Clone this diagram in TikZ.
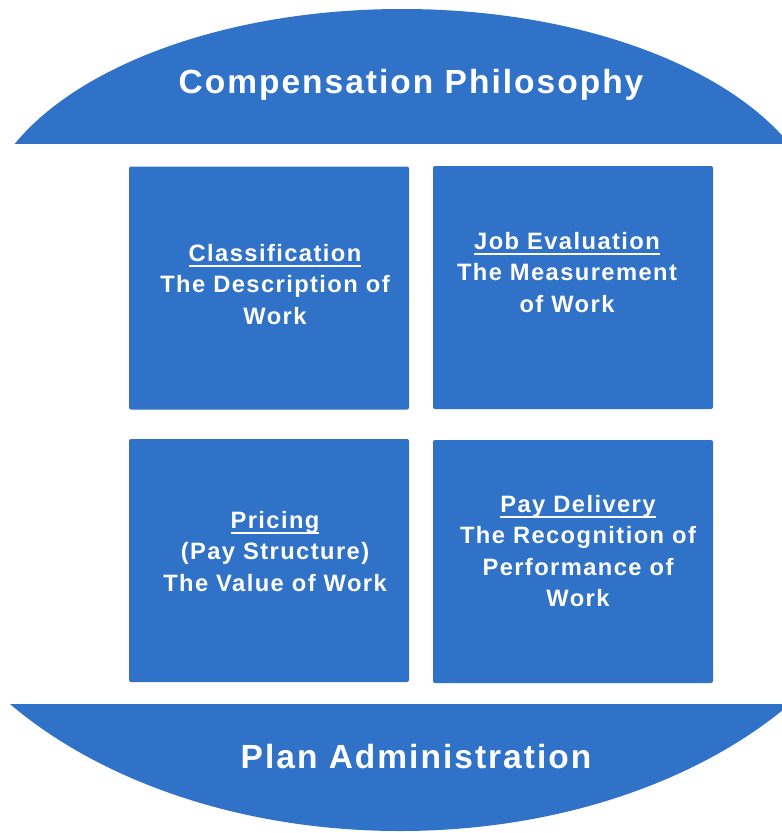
\documentclass[tikz,border=0pt]{standalone}
\usepackage{fontspec}
\setmainfont{Liberation Sans}[LetterSpace=6]
\definecolor{planblue}{RGB}{47,114,199}
\newcommand{\headul}[1]{\setbox0\hbox{#1}\rlap{\rule[-6pt]{\wd0}{2pt}}\box0}
\begin{document}
\begin{tikzpicture}[x=1pt, y=-1pt,
	workbox/.style={fill=planblue, rounded corners=2pt, inner sep=0pt, outer sep=0pt, minimum width=280pt, minimum height=243pt},
	boxtext/.style={text=white, align=center, inner sep=0pt, anchor=north, font=\fontsize{23.7}{31.5}\selectfont\bfseries},
	captext/.style={text=white, inner sep=0pt, anchor=base}]
				\useasboundingbox (0,0) rectangle (782,833);
				%top cap
				\begin{scope}
					\clip (0,0) rectangle (782,143);
					\fill[planblue] (402,233) ellipse [x radius=422pt, y radius=224pt];
				\end{scope}
				%bottom cap
				\begin{scope}
					\clip (0,704) rectangle (782,833);
					\fill[planblue] (400,497) ellipse [x radius=497pt, y radius=334pt];
				\end{scope}
				\node[captext, font=\fontsize{33.5}{40}\selectfont\bfseries] (philo) at (411,93) {Compensation Philosophy};
				\node[captext, font=\fontsize{33.5}{40}\selectfont\bfseries] (admin) at (416,768) {Plan Administration};
				
				%four boxes
				\node[workbox] (classbox) at (269,288) {};
				\node[workbox] (evalbox) at (573,287.5) {};
				\node[workbox] (pricebox) at (269,560.5) {};
				\node[workbox] (paybox) at (573,561.5) {};
				
				\node[boxtext] (classtext) at (275,244) {\headul{Classification}\\The Description of\\Work};
				\node[boxtext] (evaltext) at (567,232) {\headul{Job Evaluation}\\The Measurement\\of Work};
				\node[boxtext] (pricetext) at (275,511) {\headul{Pricing}\\(Pay Structure)\\The Value of Work};
				\node[boxtext] (paytext) at (578,495) {\headul{Pay Delivery}\\The Recognition of\\Performance of\\Work};
			\end{tikzpicture}
\end{document}
